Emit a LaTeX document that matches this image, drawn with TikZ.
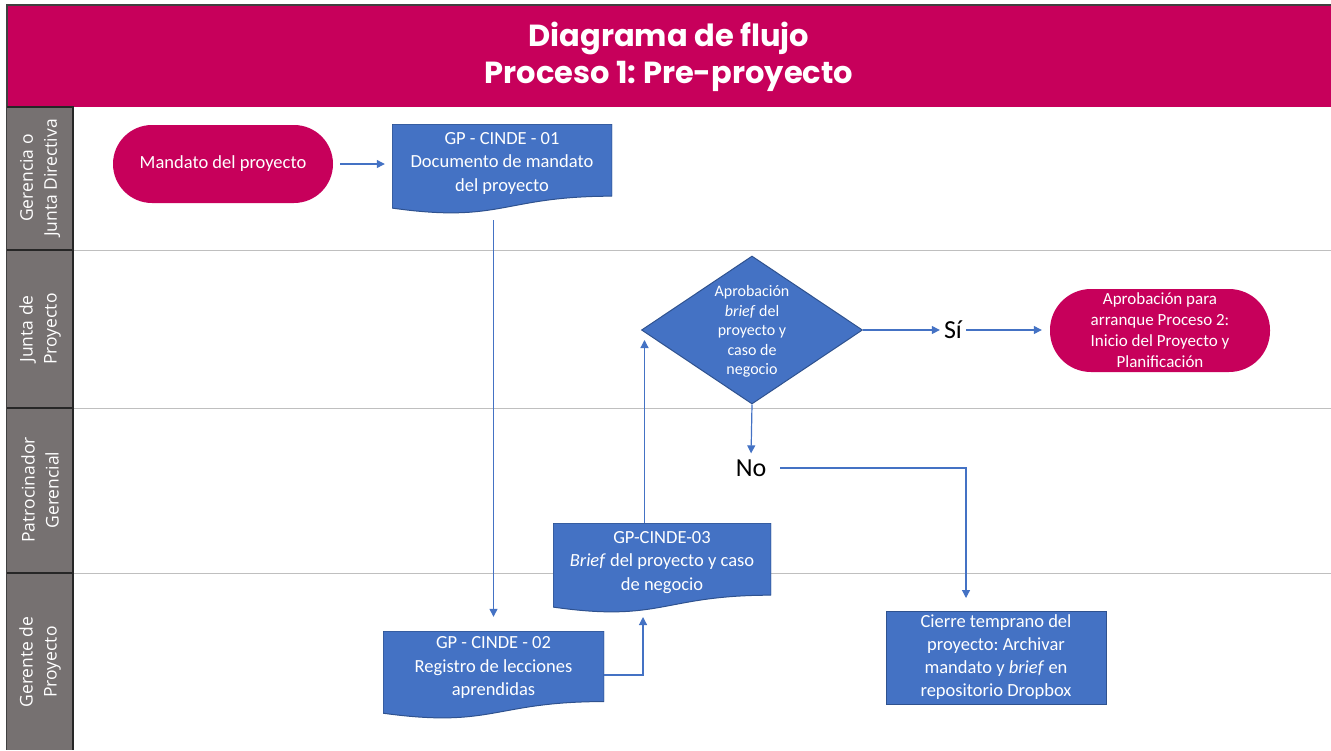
\documentclass[tikz,border=0pt]{standalone}
\usepackage{fontspec}
\setmainfont{Carlito}
\newfontfamily\titlefont{Poppins}
\newfontfamily\lanefont{Open Sans}
\usetikzlibrary{shapes.geometric,arrows.meta,calc}
\definecolor{mag}{RGB}{199,0,91}
\definecolor{docblue}{RGB}{68,114,196}
\definecolor{docline}{RGB}{47,82,143}
\definecolor{lanegray}{RGB}{118,113,113}
\definecolor{sepgray}{RGB}{191,191,191}
\frenchspacing
\begin{document}
\begin{tikzpicture}[x=1pt,y=-1pt,
  basefont/.style={font=\fontsize{18.5}{23.5}\selectfont},
  lanetext/.style={text=white, align=center, rotate=90, font=\lanefont\fontsize{17.5}{24}\selectfont},
  terminal/.style={fill=mag, text=white, align=center, inner sep=0, rounded corners=#1},
  docbox/.style={rectangle, inner sep=0, draw=none,
    path picture={
      \filldraw[fill=docblue, draw=docline, line width=1pt]
        (path picture bounding box.north west) -- (path picture bounding box.north east)
        -- ($(path picture bounding box.north east)!0.802!(path picture bounding box.south east)$)
        .. controls ($(path picture bounding box.north)!0.802!(path picture bounding box.south)$)
        and ($(path picture bounding box.north)!1.1075!(path picture bounding box.south)$)
        .. ($(path picture bounding box.north west)!0.934!(path picture bounding box.south west)$)
        -- cycle;}},
  doctext/.style={text=white, align=center, inner sep=0, font=\fontsize{18.5}{23.5}\selectfont},
  flow/.style={draw=docblue, line width=1.2pt, -{Triangle[length=8pt,width=8pt]}},
  bigtext/.style={inner sep=2pt, font=\fontsize{26}{30}\selectfont}
]
\useasboundingbox (0,0) rectangle (1331,750);
% title bar
\fill[mag] (7,5) rectangle (1331,107);
\draw[black!75, line width=1.2pt] (1331,5) -- (7,5) -- (7,750);
\node[text=white, align=center, font=\titlefont\bfseries\fontsize{30.5}{37}\selectfont] (title) at (669,57) {Diagrama de flujo\\Proceso 1: Pre-proyecto};
% lanes
\fill[lanegray] (7,107) rectangle (73,750);
\draw[black!85, line width=1.2pt] (7,107) -- (73,107) -- (73,750);
\foreach \yy in {250,408,573} {
  \draw[black!85, line width=1.2pt] (7,\yy) -- (73,\yy);
  \draw[sepgray, line width=1pt] (74,\yy) -- (1331,\yy);
}
\node[lanetext] (l1) at (40,178) {Gerencia o\\Junta Directiva};
\node[lanetext] (l2) at (40,329) {Junta de\\Proyecto};
\node[lanetext] (l3) at (40,490) {Patrocinador\\Gerencial};
\node[lanetext] (l4) at (40,662) {Gerente de\\Proyecto};
% nodes
\node[terminal=39pt, minimum width=220pt, minimum height=78pt, basefont] (mand) at (223,164) {Mandato del proyecto};
\node[docbox, minimum width=220pt, minimum height=90pt] (d1) at (502,169) {};
\node[doctext] (d1t) at ($(d1.north)!0.435!(d1.south)$) {GP - CINDE - 01\\Documento de mandato\\del proyecto};
\node[docbox, minimum width=221pt, minimum height=88pt] (d2) at (493.5,675) {};
\node[doctext] (d2t) at ($(d2.north)!0.42!(d2.south)$) {GP - CINDE - 02\\Registro de lecciones\\aprendidas};
\node[docbox, minimum width=218pt, minimum height=90pt] (d3) at (662,568) {};
\node[doctext] (d3t) at ($(d3.north)!0.435!(d3.south)$) {GP-CINDE-03\\\textit{Brief} del proyecto y caso\\de negocio};
\node[diamond, fill=docblue, draw=docline, line width=1pt, inner sep=0, aspect=1.49, minimum width=221pt, minimum height=148pt] (dec) at (752,330) {};
\node[text=white, align=center, inner sep=0, font=\fontsize{16}{19.5}\selectfont] (dect) at ($(dec.center)+(0,1.5)$) {Aprobación\\\textit{brief} del\\proyecto y\\caso de\\negocio};
\node[bigtext] (si) at (953,330) {Sí};
\node[bigtext] (no) at (751,468) {No};
\node[terminal=41pt, minimum width=220pt, minimum height=83pt, font=\fontsize{17}{21}\selectfont] (t2) at (1160,330.5) {Aprobación para\\arranque Proceso 2:\\Inicio del Proyecto y\\Planificación};
\node[rectangle, fill=docblue, draw=docline, line width=1pt, text=white, align=center, minimum width=220pt, minimum height=93pt, inner sep=0, font=\fontsize{18.5}{23}\selectfont] (cierre) at (996,657.5) {Cierre temprano del\\proyecto: Archivar\\mandato y \textit{brief} en\\repositorio Dropbox};
% helper coordinates
\coordinate (d3in) at (643,609);
\coordinate (decin) at ($(dec.west)+(3.5,10)$);
\coordinate (cin) at (966,611);
% connectors
\draw[flow, shorten <=7pt, shorten >=7pt] (mand.east) -- (d1.west |- mand.east);
\draw[flow, shorten <=6pt, shorten >=14pt] (d2.north |- d1.south) -- (d2.north);
\draw[flow, shorten >=8pt] (d2.east) -| (d3in);
\draw[flow] (decin |- d3.north) -- (decin);
\draw[flow, shorten >=2pt] (dec.east) -- (si.west |- dec.east);
\draw[flow, shorten <=2pt, shorten >=8pt] (si.east |- dec.east) -- (t2.west |- dec.east);
\draw[flow, shorten >=4pt] (dec.south) -- (no.north);
\draw[flow, shorten <=12pt, shorten >=13pt] (no.east) -| (cin);
\end{tikzpicture}
\end{document}
